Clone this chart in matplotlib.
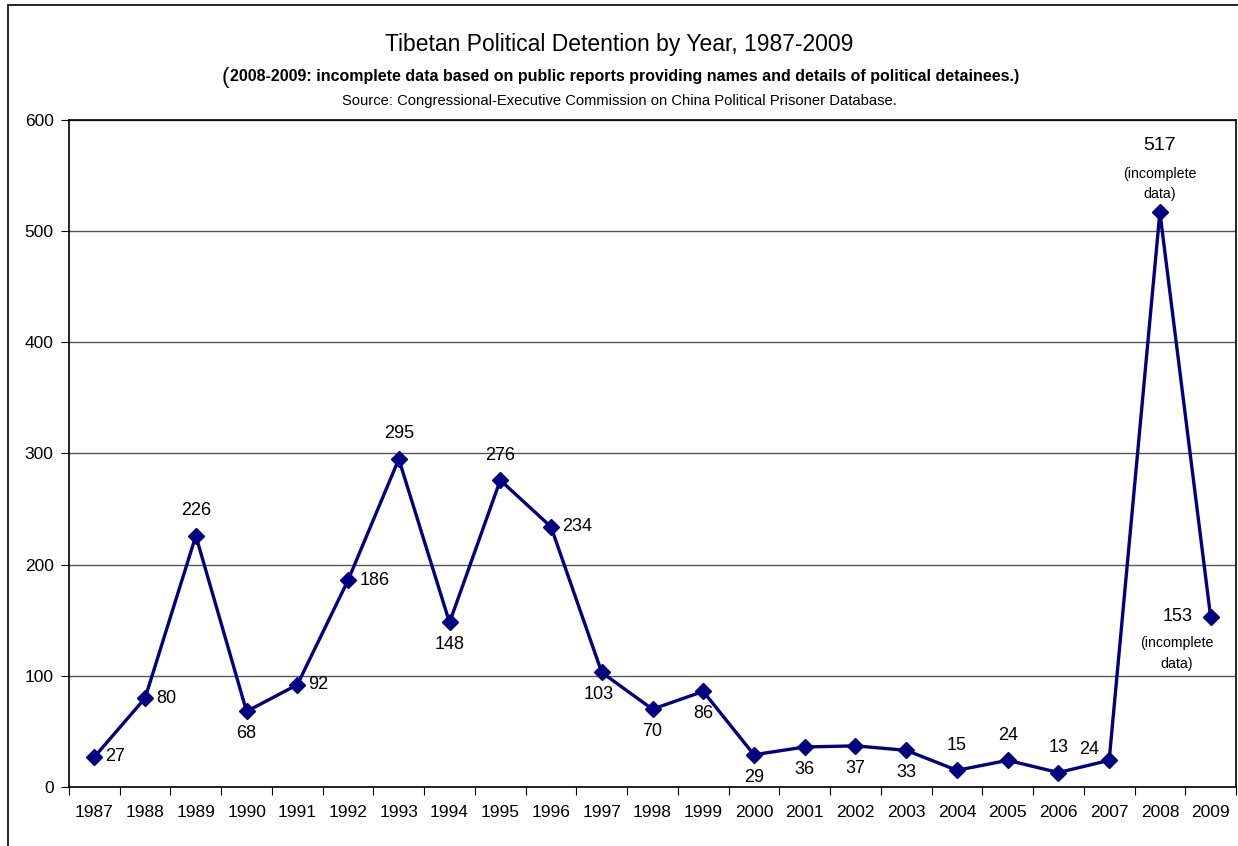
import numpy as np
import matplotlib
matplotlib.use('Agg')
import matplotlib.pyplot as plt
from matplotlib.patches import Rectangle

plt.rcParams['font.family'] = ['Liberation Sans', 'DejaVu Sans']

############################################
# data
############################################
years = ['1987', '1988', '1989', '1990', '1991', '1992', '1993', '1994', '1995',
         '1996', '1997', '1998', '1999', '2000', '2001', '2002', '2003', '2004',
         '2005', '2006', '2007', '2008', '2009']
detentions = [27, 80, 226, 68, 92, 186, 295, 148, 276, 234, 103, 70, 86,
              29, 36, 37, 33, 15, 24, 13, 24, 517, 153]
# where each value label sits relative to its point
label_pos = ['right', 'right', 'above', 'below', 'right', 'right', 'above', 'below',
             'above', 'right', 'belowleft', 'below', 'below', 'below', 'below', 'below',
             'below', 'above', 'above', 'above', 'aboveleft', 'above', 'left']

############################################
# figure
############################################
fig = plt.figure(figsize=(12.38, 8.46), dpi=100)
ax = fig.add_axes([69 / 1238, 1 - 787 / 846, (1236 - 69) / 1238, (787 - 120) / 846])

x = np.arange(len(years))
ax.plot(x, detentions, '-', color='#000080', lw=2.4, marker='D', ms=8.5,
        markerfacecolor='#000080', markeredgecolor='#000080', zorder=3)

ax.set_xlim(-0.5, len(years) - 0.5)
ax.set_ylim(0, 600)
ax.set_yticks(np.arange(0, 601, 100))
ax.yaxis.grid(True, color='#555555', lw=1)
ax.set_axisbelow(True)
ax.set_xticks(np.arange(-0.5, len(years), 1))
ax.set_xticklabels([])
ax.set_xticks(x, minor=True)
ax.set_xticklabels(years, minor=True, fontsize=12.5)
ax.tick_params(axis='x', which='minor', length=0, pad=13)
ax.tick_params(axis='x', which='major', length=6, direction='out')
ax.tick_params(axis='y', length=6, labelsize=12.5, pad=5)
for s in ax.spines.values():
    s.set_color('black')
    s.set_linewidth(1.2)

# value labels
offs = {'right': (8, 0, 'left', 'center'),
        'left': (-12, 0, 'right', 'center'),
        'above': (0, 12, 'center', 'bottom'),
        'below': (0, -10, 'center', 'top'),
        'belowleft': (-2, -10, 'center', 'top'),
        'aboveleft': (-7, 2, 'right', 'bottom')}
for i, (v, p) in enumerate(zip(detentions, label_pos)):
    dx, dy, ha, va = offs[p]
    if years[i] == '2008':
        ax.annotate('(incomplete\ndata)', (i, v), xytext=(0, 8), textcoords='offset points',
                    ha='center', va='bottom', fontsize=10.2, linespacing=1.6)
        ax.annotate(str(v), (i, v), xytext=(0, 42), textcoords='offset points',
                    ha='center', va='bottom', fontsize=14)
        continue
    if years[i] == '2009':
        ax.annotate(str(v), (i, v), xytext=(-13, 0), textcoords='offset points',
                    ha='right', va='center', fontsize=13)
        ax.annotate('(incomplete\ndata)', (i, v), xytext=(-24.5, -14), textcoords='offset points',
                    ha='center', va='top', fontsize=10.2, linespacing=1.6)
        continue
    ax.annotate(str(v), (i, v), xytext=(dx, dy), textcoords='offset points',
                ha=ha, va=va, fontsize=13)

############################################
# titles
############################################
fig.text(0.5, 1 - 45 / 846, 'Tibetan Political Detention by Year, 1987-2009',
         ha='center', va='center', fontsize=16.5)
sub = fig.text(0.5 + 6 / 1238, 1 - 76 / 846,
               '2008-2009: incomplete data based on public reports providing names and details of political detainees.)',
               ha='center', va='center', fontsize=11.5, fontweight='bold')
fig.canvas.draw()
bb = sub.get_window_extent(renderer=fig.canvas.get_renderer())
fig.text((bb.x0 - 1) / 1238, 1 - 77 / 846, '(', ha='right', va='center', fontsize=16)
fig.text(0.5, 1 - 101 / 846,
         'Source: Congressional-Executive Commission on China Political Prisoner Database.',
         ha='center', va='center', fontsize=10.6)

# outer chart frame
fig.patches.append(Rectangle((8 / 1238, -0.1), 1.2, 1 - 5 / 846 + 0.1,
                             transform=fig.transFigure, fill=False,
                             edgecolor='black', lw=1.2))

fig.savefig('out.png', dpi=100)
